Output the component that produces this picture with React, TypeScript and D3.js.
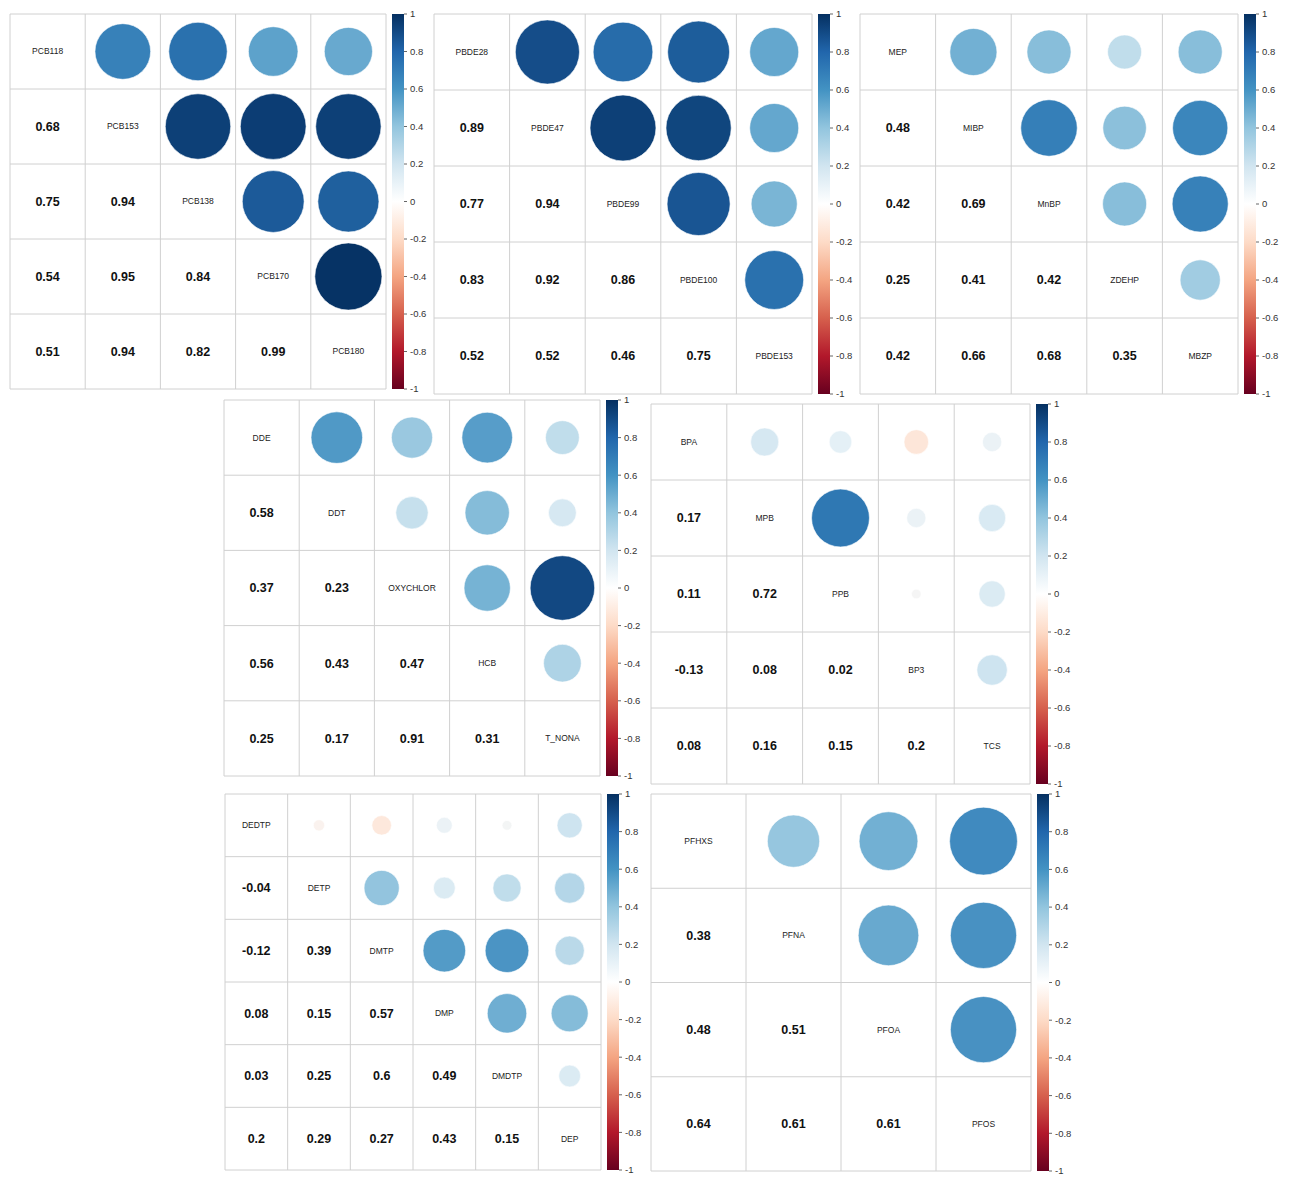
import { scaleLinear, range, interpolateRgbBasis } from 'd3';

// lower-triangle correlations, row i holds r(i+1, 0..i)
const pcbNames = ['PCB118', 'PCB153', 'PCB138', 'PCB170', 'PCB180'];
const pcbLower = [[0.68], [0.75, 0.94], [0.54, 0.95, 0.84], [0.51, 0.94, 0.82, 0.99]];
const pbdeNames = ['PBDE28', 'PBDE47', 'PBDE99', 'PBDE100', 'PBDE153'];
const pbdeLower = [[0.89], [0.77, 0.94], [0.83, 0.92, 0.86], [0.52, 0.52, 0.46, 0.75]];
const phthNames = ['MEP', 'MIBP', 'MnBP', 'ZDEHP', 'MBZP'];
const phthLower = [[0.48], [0.42, 0.69], [0.25, 0.41, 0.42], [0.42, 0.66, 0.68, 0.35]];
const ocNames = ['DDE', 'DDT', 'OXYCHLOR', 'HCB', 'T_NONA'];
const ocLower = [[0.58], [0.37, 0.23], [0.56, 0.43, 0.47], [0.25, 0.17, 0.91, 0.31]];
const phenNames = ['BPA', 'MPB', 'PPB', 'BP3', 'TCS'];
const phenLower = [[0.17], [0.11, 0.72], [-0.13, 0.08, 0.02], [0.08, 0.16, 0.15, 0.2]];
const opNames = ['DEDTP', 'DETP', 'DMTP', 'DMP', 'DMDTP', 'DEP'];
const opLower = [[-0.04], [-0.12, 0.39], [0.08, 0.15, 0.57], [0.03, 0.25, 0.6, 0.49], [0.2, 0.29, 0.27, 0.43, 0.15]];
const pfasNames = ['PFHXS', 'PFNA', 'PFOA', 'PFOS'];
const pfasLower = [[0.38], [0.48, 0.51], [0.64, 0.61, 0.61]];

const barTicks = range(-1, 1.0001, 0.2).map((d) => Math.round(d * 10) / 10);
const rdbu = ['#67001F', '#B2182B', '#D6604D', '#F4A582', '#FDDBC7', '#FFFFFF', '#D1E5F0', '#92C5DE', '#4393C3', '#2166AC', '#053061'];
const interp = interpolateRgbBasis(rdbu);
const color = (r: number) => interp((r + 1) / 2);

interface PanelSpec { names: string[]; lower: number[][]; x0: number; x1: number; y0: number; y1: number; }

const panels: PanelSpec[] = [
  { names: pcbNames, lower: pcbLower, x0: 10, x1: 386, y0: 14, y1: 389 },
  { names: pbdeNames, lower: pbdeLower, x0: 434, x1: 812, y0: 14, y1: 394 },
  { names: phthNames, lower: phthLower, x0: 860, x1: 1238, y0: 14, y1: 394 },
  { names: ocNames, lower: ocLower, x0: 224, x1: 600, y0: 400, y1: 776 },
  { names: phenNames, lower: phenLower, x0: 651, x1: 1030, y0: 404, y1: 784 },
  { names: opNames, lower: opLower, x0: 225, x1: 601, y0: 794, y1: 1170 },
  { names: pfasNames, lower: pfasLower, x0: 651, x1: 1031, y0: 794, y1: 1171 },
];

function Panel({ p, idx }: { p: PanelSpec; idx: number }) {
  const n = p.names.length;
  const x = scaleLinear().domain([0, n]).range([p.x0, p.x1]);
  const y = scaleLinear().domain([0, n]).range([p.y0, p.y1]);
  const cw = (p.x1 - p.x0) / n;
  const ch = (p.y1 - p.y0) / n;
  const r = (i: number, j: number) => (i > j ? p.lower[i - 1][j] : p.lower[j - 1][i]);
  const bx = p.x1 + 6;
  const cb = scaleLinear().domain([-1, 1]).range([p.y1, p.y0]);
  const gid = `grad${idx}`;
  const cells = [];
  for (let i = 0; i < n; i++) {
    for (let j = 0; j < n; j++) {
      const cx = x(j) + cw / 2;
      const cy = y(i) + ch / 2;
      if (i === j) {
        cells.push(<text key={`${i}-${j}`} x={cx} y={cy} dy="0.35em" textAnchor="middle" fontSize={8.5} fill="#222">{p.names[i]}</text>);
      } else if (i > j) {
        cells.push(<text key={`${i}-${j}`} x={cx} y={cy} dy="0.35em" textAnchor="middle" fontSize={12.5} fontWeight="bold" fill="#111">{r(i, j)}</text>);
      } else {
        const v = r(i, j);
        cells.push(<circle key={`${i}-${j}`} cx={cx} cy={cy} r={Math.sqrt(Math.abs(v)) * 0.45 * Math.min(cw, ch)} fill={color(v)} stroke="#fff" strokeWidth={0.6} />);
      }
    }
  }
  return (
    <g fontFamily="Arial, 'Liberation Sans', sans-serif">
      <rect x={p.x0} y={p.y0} width={p.x1 - p.x0} height={p.y1 - p.y0} fill="#fff" />
      {range(n + 1).map((k) => (
        <g key={k}>
          <line x1={x(k)} x2={x(k)} y1={p.y0} y2={p.y1} stroke="#d0d0d0" />
          <line x1={p.x0} x2={p.x1} y1={y(k)} y2={y(k)} stroke="#d0d0d0" />
        </g>
      ))}
      {cells}
      <defs>
        <linearGradient id={gid} x1="0" y1="1" x2="0" y2="0">
          {rdbu.map((c, k) => <stop key={k} offset={k / (rdbu.length - 1)} stopColor={c} />)}
        </linearGradient>
      </defs>
      <rect x={bx} y={p.y0} width={12} height={p.y1 - p.y0} fill={`url(#${gid})`} />
      {barTicks.map((t) => (
        <g key={t}>
          <line x1={bx + 12} x2={bx + 15} y1={cb(t)} y2={cb(t)} stroke="#666" />
          <text x={bx + 18} y={cb(t)} dy="0.35em" fontSize={9.5} fill="#333">{t}</text>
        </g>
      ))}
    </g>
  );
}

export default function App() {
  return (
    <svg width={1290} height={1178} style={{ position: 'absolute', left: 0, top: 0, background: '#fff' }}>
      {panels.map((p, i) => <Panel key={i} p={p} idx={i} />)}
    </svg>
  );
}
